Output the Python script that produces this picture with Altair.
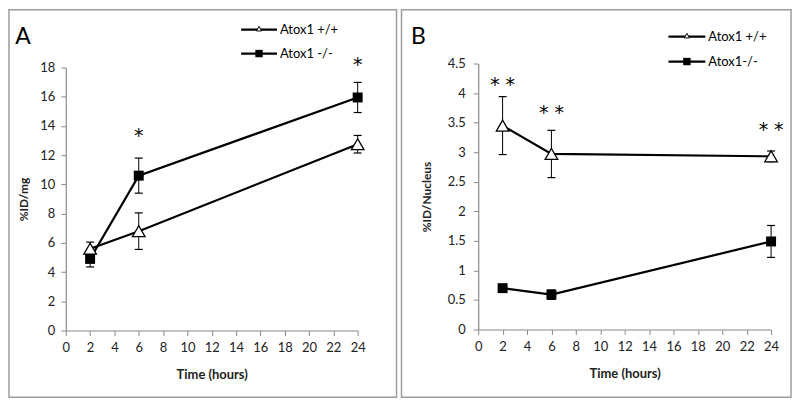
import altair as alt
import pandas as pd

# ---------------- data ----------------
times = [2, 6, 24]
x_ticks = list(range(0, 25, 2))

# Panel A : %ID/mg
a_wt = [5.6, 6.8, 12.75]
a_wt_err = [0.45, 1.25, 0.6]
a_ko = [4.9, 10.6, 15.95]
a_ko_err = [0.55, 1.2, 1.03]
a_star_t = [6, 24]
a_star_y = [13.3, 18.2]
a_star_txt = ["*", "*"]
a_y_ticks = [0, 2, 4, 6, 8, 10, 12, 14, 16, 18]
a_legend = ["Atox1 +/+", "Atox1 -/-"]

# Panel B : %ID/Nucleus
b_wt = [3.45, 2.97, 2.93]
b_wt_err = [0.49, 0.40, 0.09]
b_ko = [0.70, 0.59, 1.49]
b_ko_err = [0.03, 0.08, 0.27]
b_star_t = [2, 6, 24]
b_star_y = [4.14, 3.67, 3.37]
b_star_txt = ["* *", "* *", "* *"]
b_y_ticks = [0, 0.5, 1, 1.5, 2, 2.5, 3, 3.5, 4, 4.5]
b_legend = ["Atox1 +/+", "Atox1-/-"]

FONT = "Lato"
STAR_FONT = "DejaVu Sans"
one = pd.DataFrame({"k": [0]})


def panel(wt, wt_err, ko, ko_err, star_t, star_y, star_txt, ymax, yticks,
          ytitle, w, h, yrange, letter, letter_xy, legend_names, leg, border,
          ytpad, ylpad):
    df = pd.DataFrame({
        "t": times * 2,
        "v": wt + ko,
        "e": wt_err + ko_err,
        "s": ["wt"] * 3 + ["ko"] * 3,
    })
    df["lo"] = df["v"] - df["e"]
    df["hi"] = df["v"] + df["e"]
    stars = pd.DataFrame({"t": star_t, "v": star_y, "txt": star_txt})

    xs = alt.Scale(domain=[0, 24], nice=False, zero=False)
    ys = alt.Scale(domain=[0, ymax], nice=False, range=yrange)
    xaxis = alt.Axis(
        values=x_ticks, title="Time (hours)", grid=False, format="d",
        tickSize=5, labelPadding=6, titlePadding=14, labelOverlap=False,
        labelBound=False, labelFlush=False)
    yaxis = alt.Axis(
        values=yticks, title=ytitle, grid=False, format="~g",
        tickSize=5, labelPadding=ylpad, titlePadding=ytpad, labelOverlap=False,
        labelBound=False, labelFlush=False)

    def X(f="t"):
        return alt.X(f + ":Q", scale=xs, axis=xaxis)

    def Y(f="v"):
        return alt.Y(f + ":Q", scale=ys, axis=yaxis)

    base = alt.Chart(df)
    lines = base.mark_line(color="black", strokeWidth=2.2).encode(X(), Y(), detail="s:N")
    err = base.mark_rule(color="black", strokeWidth=1).encode(
        x=X(), y=Y("lo"), y2="hi:Q")
    cap_hi = base.mark_point(shape="M-1,0L1,0", size=64, color="black",
                             strokeWidth=1.2, filled=False, opacity=1).encode(x=X(), y=Y("hi"))
    cap_lo = base.mark_point(shape="M-1,0L1,0", size=64, color="black",
                             strokeWidth=1.2, filled=False, opacity=1).encode(x=X(), y=Y("lo"))
    tri = base.transform_filter("datum.s == 'wt'").mark_point(
        shape="triangle-up", size=160, filled=True, fill="white", stroke="black",
        strokeWidth=1.3, opacity=1).encode(x=X(), y=Y())
    sq = base.transform_filter("datum.s == 'ko'").mark_point(
        shape="square", size=100, filled=True, color="black", opacity=1).encode(x=X(), y=Y())
    star = alt.Chart(stars).mark_text(font=STAR_FONT, fontSize=19, color="black",
                                      baseline="middle").encode(x=X(), y=Y(), text="txt:N")

    bx0, bx1, by0, by1 = border
    frame = alt.Chart(one).mark_rect(fillOpacity=0, stroke="#9c9c9c", strokeWidth=1.5).encode(
        x=alt.value(bx0), x2=alt.value(bx1), y=alt.value(by0), y2=alt.value(by1))
    lett = alt.Chart(one).mark_text(font=FONT, fontSize=23, color="black",
                                    align="center", baseline="middle").encode(
        x=alt.value(letter_xy[0]), y=alt.value(letter_xy[1]), text=alt.value(letter))

    lx0, lx1, ltx, ly1, ly2 = leg
    lmid = (lx0 + lx1) / 2
    leg_layers = []
    for name, ly, kind in [(legend_names[0], ly1, "tri"), (legend_names[1], ly2, "sq")]:
        leg_layers.append(alt.Chart(one).mark_rule(color="black", strokeWidth=2.2).encode(
            x=alt.value(lx0), x2=alt.value(lx1), y=alt.value(ly)))
        if kind == "tri":
            leg_layers.append(alt.Chart(one).mark_point(
                shape="triangle-up", size=28, filled=True, fill="white", stroke="black",
                strokeWidth=1, opacity=1).encode(x=alt.value(lmid), y=alt.value(ly - 1)))
        else:
            leg_layers.append(alt.Chart(one).mark_point(
                shape="square", size=55, filled=True, color="black", opacity=1).encode(
                x=alt.value(lmid), y=alt.value(ly)))
        leg_layers.append(alt.Chart(one).mark_text(
            font=FONT, fontSize=13, color="black", align="left", baseline="middle").encode(
            x=alt.value(ltx), y=alt.value(ly), text=alt.value(name)))

    return alt.layer(frame, lines, err, cap_hi, cap_lo, tri, sq, star, lett,
                     *leg_layers).properties(width=w, height=h)


pA = panel(a_wt, a_wt_err, a_ko, a_ko_err, a_star_t, a_star_y, a_star_txt, 18,
           a_y_ticks, "%ID/mg", 293, 264, [264, 0], "A", (-43, -31), a_legend,
           (176, 212, 215, -38, -14), (-57, 332, -58, 331), 9, 6)
pB = panel(b_wt, b_wt_err, b_ko, b_ko_err, b_star_t, b_star_y, b_star_txt, 4.5,
           b_y_ticks, "%ID/Nucleus", 294, 263, [263, -4], "B", (-60, -31), b_legend,
           (191, 228, 231, -31, -6), (-77, 314, -58, 331), 14, 8)

chart = alt.hconcat(pA, pB, spacing=3).properties(
    padding=0, background="white"
).configure_view(stroke=None).configure_axis(
    domainColor="#8a8a8a", tickColor="#8a8a8a", domainWidth=1.2, tickWidth=1,
    labelFont=FONT, labelFontSize=13, labelColor="#222",
    titleFont=FONT, titleFontSize=13, titleFontWeight="bold", titleColor="#222"
).configure_axisY(titleFontSize=12)

chart.save("out.html", embed_options={"renderer": "svg", "actions": False})
